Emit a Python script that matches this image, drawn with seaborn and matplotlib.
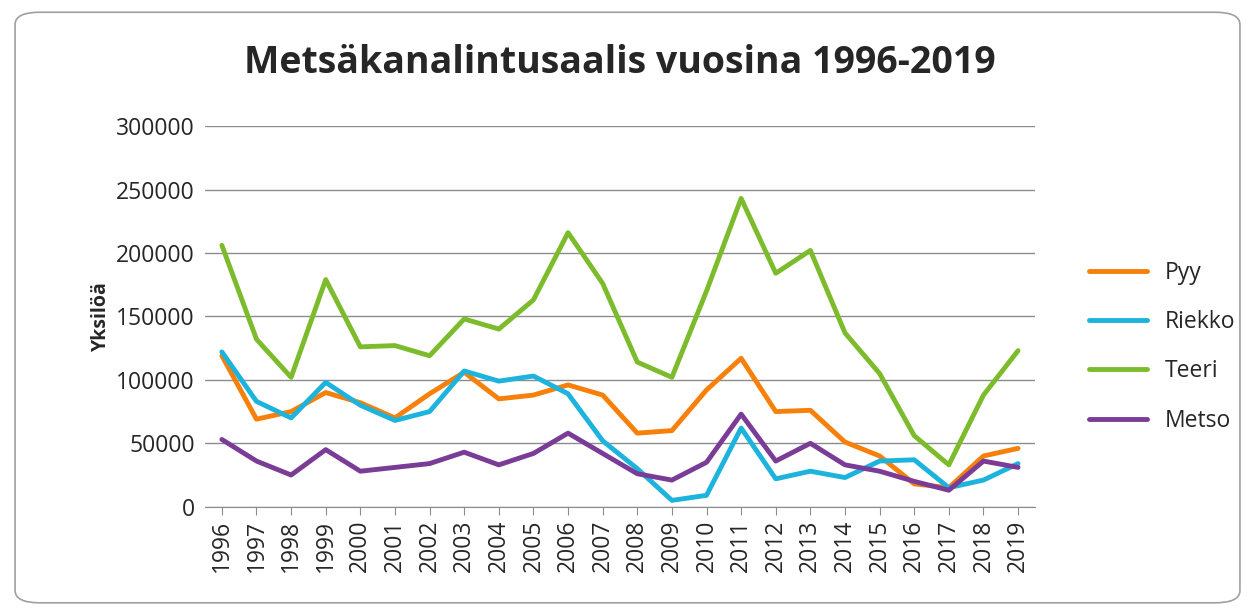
import pandas as pd
import seaborn as sns
from matplotlib import pyplot as plt
from matplotlib.patches import FancyBboxPatch

years = list(range(1996, 2020))
pyy = [119000, 69000, 75000, 90000, 82000, 70000, 89000, 106000, 85000, 88000, 96000, 88000,
       58000, 60000, 92000, 117000, 75000, 76000, 51000, 40000, 18000, 15000, 40000, 46000]
riekko = [122000, 83000, 70000, 98000, 80000, 68000, 75000, 107000, 99000, 103000, 89000, 52000,
          30000, 5000, 9000, 62000, 22000, 28000, 23000, 36000, 37000, 15000, 21000, 34000]
teeri = [206000, 132000, 102000, 179000, 126000, 127000, 119000, 148000, 140000, 163000, 216000, 176000,
         114000, 102000, 170000, 243000, 184000, 202000, 137000, 105000, 56000, 33000, 88000, 123000]
metso = [53000, 36000, 25000, 45000, 28000, 31000, 34000, 43000, 33000, 42000, 58000, 42000,
         26000, 21000, 35000, 73000, 36000, 50000, 33000, 28000, 20000, 13000, 36000, 31000]

df = pd.DataFrame({"Vuosi": years, "Pyy": pyy, "Riekko": riekko, "Teeri": teeri, "Metso": metso})
long = df.melt(id_vars="Vuosi", var_name="Laji", value_name="Yksilöä")

sns.set_style("white")
plt.rcParams['font.family'] = ['Open Sans', 'DejaVu Sans']

fig = plt.figure(figsize=(12.55, 6.12), dpi=100)
fig.patches.append(FancyBboxPatch((0.012, 0.015), 0.976, 0.965, boxstyle="round,pad=0,rounding_size=0.02",
                                  transform=fig.transFigure, fill=False, edgecolor="#a0a0a0", linewidth=1.2))
ax = fig.add_axes([0.163, 0.172, 0.662, 0.622])
palette = {"Pyy": "#f7800a", "Riekko": "#1cb4dc", "Teeri": "#7cbc2c", "Metso": "#7a3c96"}
sns.lineplot(data=long, x="Vuosi", y="Yksilöä", hue="Laji", palette=palette, linewidth=3.5, ax=ax)

ax.set_xlim(1995.5, 2019.5)
ax.set_ylim(0, 300000)
ax.set_yticks(range(0, 300001, 50000))
ax.set_xticks(years)
ax.set_xticklabels([str(y) for y in years], rotation=90)
ax.tick_params(labelsize=16.5)
ax.grid(axis="y", color="#8c8c8c", linewidth=1)
for s in ["top", "right", "left"]:
    ax.spines[s].set_visible(False)
ax.spines["bottom"].set_color("#8c8c8c")
ax.tick_params(axis="x", bottom=True, length=6, color="#8c8c8c")
ax.set_xlabel("")
ax.set_ylabel("Yksilöä", fontsize=14, fontweight="bold")
ax.set_title("Metsäkanalintusaalis vuosina 1996-2019", fontsize=27, fontweight="bold", pad=38)
ax.legend(loc="center left", bbox_to_anchor=(1.04, 0.42), frameon=False, fontsize=16.5,
          handlelength=2.5, labelspacing=1.1)
fig.savefig("out.png", dpi=100)
